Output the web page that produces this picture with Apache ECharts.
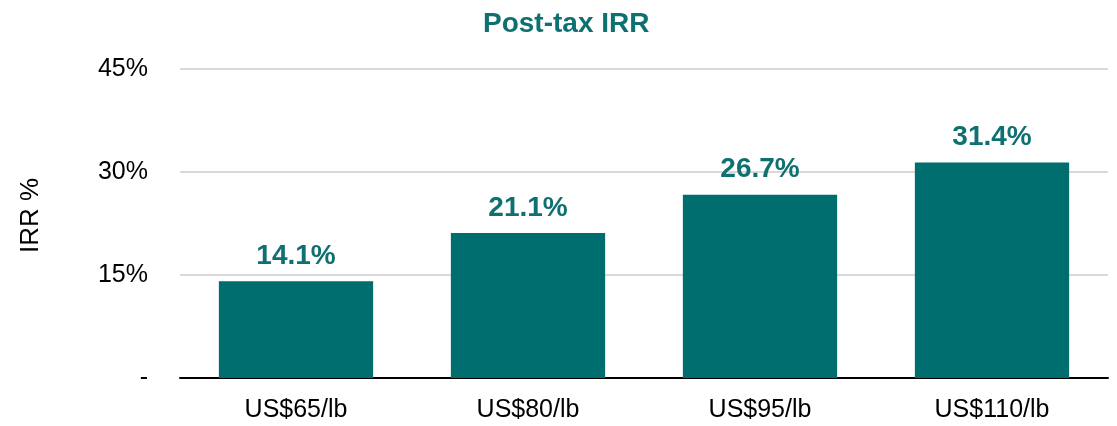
<!DOCTYPE html>
<html>
<head>
<meta charset="utf-8">
<script src="https://cdn.jsdelivr.net/npm/echarts@6/dist/echarts.min.js"></script>
<style>
  html, body { margin: 0; padding: 0; background: #fff; }
  #chart { width: 1117px; height: 426px; }
</style>
</head>
<body>
<div id="chart"></div>
<script>
// Post-tax IRR by uranium price
const categories = ['US$65/lb', 'US$80/lb', 'US$95/lb', 'US$110/lb'];
const irrValues = [14.1, 21.1, 26.7, 31.4];
const yTicks = [0, 15, 30, 45];

const TEAL = '#006E6E';
const FONT = 'Liberation Sans, Arial, sans-serif';

const chart = echarts.init(document.getElementById('chart'));
chart.setOption({
    animation: false,
    title: {
        text: 'Post-tax IRR', left: 478, top: 5,
        textStyle: { color: '#0E7070', fontSize: 28, fontWeight: 'bold', fontFamily: FONT }
    },
    grid: { left: 180, right: 9, top: 69, bottom: 48 },
    xAxis: {
        type: 'category', data: categories,
        axisLine: { lineStyle: { color: '#000', width: 2 } },
        axisTick: { show: false },
        axisLabel: { color: '#000', fontSize: 25, fontFamily: FONT, margin: 20 }
    },
    yAxis: {
        type: 'value', min: yTicks[0], max: yTicks[yTicks.length - 1], interval: 15,
        name: 'IRR %', nameLocation: 'middle', nameGap: 136, nameRotate: 90,
        nameTextStyle: { color: '#000', fontSize: 26, fontFamily: FONT, padding: [0, 0, 0, 16] },
        axisLine: { show: false },
        axisTick: { show: false },
        axisLabel: {
            color: '#000', fontSize: 25, fontFamily: FONT, margin: 32,
            formatter: v => v === 0 ? '-' : v + '%'
        },
        splitLine: { lineStyle: { color: '#d9d9d9', width: 2 } }
    },
    series: [{
        type: 'bar', data: irrValues, barWidth: '66.5%',
        itemStyle: { color: TEAL },
        label: {
            show: true, position: 'top', distance: 11,
            color: '#0E7070', fontSize: 28, fontWeight: 'bold', fontFamily: FONT,
            formatter: p => p.value.toFixed(1) + '%'
        }
    }]
});
</script>
</body>
</html>
